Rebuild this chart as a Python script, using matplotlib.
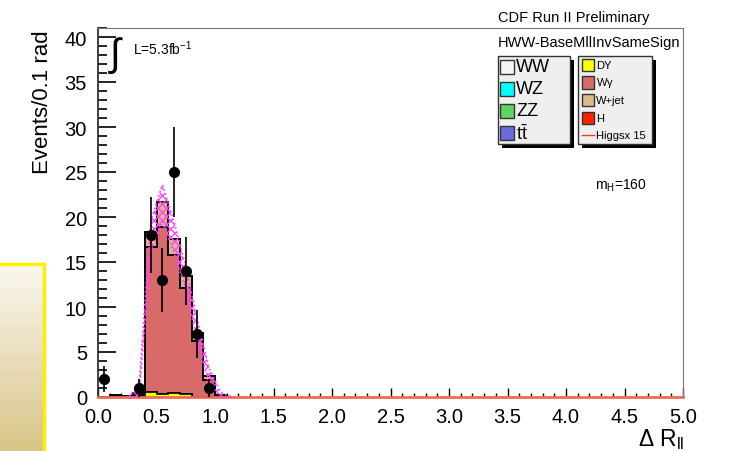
import matplotlib
import matplotlib.pyplot as plt
import numpy as np
from matplotlib.patches import Rectangle
from matplotlib.ticker import MultipleLocator

matplotlib.use('Agg')
plt.rcParams['font.family'] = ['Liberation Sans', 'DejaVu Sans']
plt.rcParams['mathtext.fontset'] = 'custom'
plt.rcParams['mathtext.rm'] = 'Liberation Sans'
plt.rcParams['mathtext.it'] = 'Liberation Sans'

# bins of 0.1 rad from 0.0 to 1.1 (everything above is empty)
bin_lo = [0.0, 0.1, 0.2, 0.3, 0.4, 0.5, 0.6, 0.7, 0.8, 0.9, 1.0]
dy = [0, 0, 0, 0, 0.6, 0.3, 0.5, 0.3, 0, 0, 0]
wgamma = [0, 0.1, 0.1, 0.2, 16.1, 18.6, 15.3, 11.8, 6.2, 1.9, 0.1]
wjet = [0, 0.1, 0, 0.2, 1.6, 2.8, 1.8, 1.3, 0.9, 0.4, 0.1]
data = [2, 0, 0, 1, 18, 13, 25, 14, 7, 1, 0]

# magenta hatched band (bin centres)
band_x = [0.25, 0.35, 0.45, 0.55, 0.65, 0.75, 0.85, 0.95, 1.05, 1.15]
band_hi = [0, 1.0, 19.5, 23.6, 19.5, 14.5, 8.5, 3.2, 0.5, 0]
band_lo = [0, 0, 16.0, 19.5, 16.0, 12.0, 6.0, 1.5, 0, 0]

legend_left = ['WW', 'WZ', 'ZZ', r'$\mathrm{t\bar{t}}$']
legend_left_col = ['#f4f4f4', '#00ffff', '#5fd45f', '#6b6bdf']
legend_right = ['DY', r'W$\gamma$', 'W+jet', 'H']
legend_right_col = ['#ffff00', '#d96a6a', '#deb887', '#ff2200']

W, H = 740, 452
fig = plt.figure(figsize=(W / 100, H / 100), dpi=100)

# decorative gradient panel at the left
gax = fig.add_axes([0, 0, 44 / W, (H - 265) / H])
grad = np.linspace(0, 1, 100)[:, None]
c_top = np.array([0.98, 0.97, 0.94])
c_bot = np.array([0.85, 0.77, 0.53])
img = c_top[None, None, :] * (1 - grad[:, :, None]) + c_bot[None, None, :] * grad[:, :, None]
gax.imshow(img, aspect='auto', extent=[0, 1, 0, 1])
gax.set_xticks([])
gax.set_yticks([])
for s in ['left', 'bottom']:
    gax.spines[s].set_visible(False)
for s in ['top', 'right']:
    gax.spines[s].set_color('#ffee00')
    gax.spines[s].set_linewidth(2.5)

ax = fig.add_axes([98 / W, 1 - 398 / H, (683 - 98) / W, (398 - 29) / H])
edges = np.append(bin_lo, 1.1)
dy = np.array(dy)
wgamma = np.array(wgamma)
wjet = np.array(wjet)
ax.stairs(dy + wgamma + wjet, edges, baseline=dy + wgamma, fill=True, facecolor='#deb887',
          edgecolor='black', linewidth=1.4, zorder=1.5)
ax.stairs(dy + wgamma, edges, baseline=dy, fill=True, facecolor='#d96a6a',
          edgecolor='black', linewidth=1.4, zorder=1.6)
ax.stairs(dy, edges, baseline=0, fill=True, facecolor='#ffff00',
          edgecolor='black', linewidth=1.2, zorder=1.7)

ax.fill_between(band_x, band_lo, band_hi, facecolor='none', edgecolor='#ff44ff', hatch='xxxx',
                linewidth=0, zorder=3)
ax.plot(band_x, band_hi, color='#ff44ff', linestyle=':', linewidth=1.2, zorder=3)
ax.plot(band_x, band_lo, color='#ff44ff', linestyle=':', linewidth=1.2, zorder=3)

data = np.array(data, dtype=float)
cx = np.array(bin_lo) + 0.05
m = data > 0
ax.errorbar(cx[m], data[m], yerr=np.sqrt(data[m]), xerr=0.04, fmt='o', color='black',
            markersize=7, elinewidth=1.2, capsize=0, zorder=5)

ax.set_xlim(0, 5)
ax.set_ylim(0, 41)
ax.xaxis.set_major_locator(MultipleLocator(0.5))
ax.xaxis.set_minor_locator(MultipleLocator(0.1))
ax.yaxis.set_major_locator(MultipleLocator(5))
ax.yaxis.set_minor_locator(MultipleLocator(1))
ax.set_xticks(np.arange(0, 5.01, 0.5))
ax.set_xticklabels(['%.1f' % v for v in np.arange(0, 5.01, 0.5)])
ax.tick_params(axis='y', which='major', direction='in', length=13, width=1.2, labelsize=14.5, pad=8)
ax.tick_params(axis='y', which='minor', direction='in', length=6.5, width=1.2)
ax.tick_params(axis='x', which='major', direction='in', length=6.5, width=1, labelsize=14.5, pad=7)
ax.tick_params(axis='x', which='minor', direction='in', length=3.2, width=1)
ax.spines['left'].set_color('#333333')
ax.spines['left'].set_linewidth(1.3)
ax.spines['bottom'].set_color('#f06a55')
ax.spines['bottom'].set_linewidth(2)
ax.spines['top'].set_color('#777777')
ax.spines['right'].set_color('#777777')
ax.spines['top'].set_linewidth(0.8)
ax.spines['right'].set_linewidth(0.8)

fig.text(42 / W, 1 - 30 / H, 'Events/0.1 rad', rotation=90, ha='center', va='top', fontsize=16)
fig.text(685 / W, 1 - 440 / H, r'$\Delta$ R$_{\mathrm{ll}}$', ha='right', va='center', fontsize=16.5)
fig.text(498 / W, 1 - 18 / H, 'CDF Run II Preliminary', ha='left', va='center', fontsize=10.5)
fig.text(498 / W, 1 - 43 / H, 'HWW-BaseMllInvSameSign', ha='left', va='center', fontsize=10.5)
fig.text(108 / W, 1 - 56 / H, r'$\int$', ha='left', va='center', fontsize=28)
fig.text(133 / W, 1 - 49 / H, r'L=5.3fb$^{-1}$', ha='left', va='center', fontsize=10)
fig.text(595 / W, 1 - 186 / H, r'm$_{H}$=160', ha='left', va='center', fontsize=10)


def px_rect(x0, y0, w, h, **kw):
    return Rectangle((x0 / W, 1 - (y0 + h) / H), w / W, h / H, transform=fig.transFigure, **kw)


# legend boxes with shadows
for bx, bw in [(498, 72), (578, 74)]:
    fig.patches.append(px_rect(bx + 4, 61, bw, 88, facecolor='black', edgecolor='none'))
    fig.patches.append(px_rect(bx, 57, bw, 88, facecolor='#efefef', edgecolor='#333333', linewidth=1))

for i, (lab, col) in enumerate(zip(legend_left, legend_left_col)):
    yc = 68 + i * 22
    fig.patches.append(px_rect(500, yc - 7, 14, 14, facecolor=col, edgecolor='#333333', linewidth=1))
    fig.text(516 / W, 1 - yc / H, lab, ha='left', va='center', fontsize=13)

for i, (lab, col) in enumerate(zip(legend_right, legend_right_col)):
    yc = 66 + i * 17.5
    fig.patches.append(px_rect(582, yc - 6, 12, 12, facecolor=col, edgecolor='#333333', linewidth=1))
    fig.text(596 / W, 1 - yc / H, lab, ha='left', va='center', fontsize=8)
fig.lines.append(plt.Line2D([582 / W, 594 / W], [1 - 136 / H, 1 - 136 / H], transform=fig.transFigure,
                            color='#ff3333', linewidth=1))
fig.text(596 / W, 1 - 136 / H, 'Higgsx 15', ha='left', va='center', fontsize=8)

fig.savefig('out.png', dpi=100)
